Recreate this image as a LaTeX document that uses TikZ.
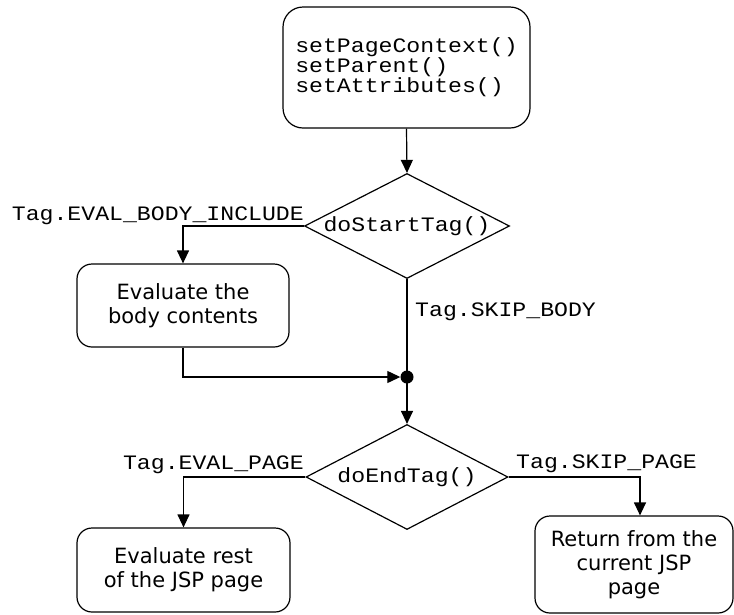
\documentclass[tikz,border=0pt]{standalone}
\usepackage{fontspec}
\usetikzlibrary{arrows.meta,shapes.geometric}
\newfontfamily\monof[FakeStretch=1.13]{Liberation Mono}
\newfontfamily\sansf{DejaVu Sans}
\tikzset{
  conn/.style={line width=1.2pt},
  arr/.style={conn,-{Triangle[length=13pt,width=12pt]}},
  rbox/.style={draw,line width=1.2pt,rounded corners=15pt,inner sep=0pt,align=center,
    font=\sansf\fontsize{21}{24}\selectfont},
  decision/.style={draw,line width=1.2pt,shape=diamond,aspect=2,inner sep=0pt,
    minimum width=202pt,minimum height=105pt,font=\monof\fontsize{20.5}{20}\selectfont},
  lbl/.style={inner sep=0pt,font=\monof\fontsize{20.5}{20}\selectfont},
  junction/.style={circle,fill=black,inner sep=0pt,minimum size=13pt}
}
\begin{document}
\begin{tikzpicture}[x=1pt,y=-1pt]
\useasboundingbox[fill=white] (0,0) rectangle (734,614);
\node[draw,line width=1.2pt,rounded corners=20pt,inner sep=0pt,align=left,
  minimum width=247pt,minimum height=121pt,
  font=\monof\fontsize{20.5}{18.5}\selectfont] (top) at (406.5,67.5)
  {setPageContext()\\setParent()\\setAttributes()};
\node[decision] (d1) at (407,226) {doStartTag()};
\node[rbox,minimum width=212pt,minimum height=83pt] (body) at (183,305.5) {Evaluate the\\body contents};
\node[junction] (dot) at (407,377) {};
\node[decision] (d2) at (407,477) {doEndTag()};
\node[rbox,minimum width=213pt,minimum height=84pt] (rest) at (183.5,570) {Evaluate rest\\of the JSP page};
\node[rbox,minimum width=198pt,minimum height=97pt] (ret) at (634,564.5) {Return from the\\current JSP\\page};

\node[lbl,anchor=base east] (l1) at (304,220) {Tag.EVAL\_BODY\_INCLUDE};
\node[lbl,anchor=base west] (l2) at (415,316) {Tag.SKIP\_BODY};
\node[lbl,anchor=base east] (l3) at (304,469) {Tag.EVAL\_PAGE};
\node[lbl,anchor=base west] (l4) at (516,468) {Tag.SKIP\_PAGE};

\draw[arr] (top.south) -- (d1.north);
\draw[arr] (d1.west) -| (body.north);
\draw[arr] (body.south) |- (dot.west);
\draw[conn] (d1.south) -- (dot.center);
\draw[arr] (dot.center) -- (d2.north);
\draw[arr] (d2.west) -| (rest.north);
\draw[arr] (d2.east) -| ([xshift=6pt]ret.north);
\end{tikzpicture}
\end{document}
